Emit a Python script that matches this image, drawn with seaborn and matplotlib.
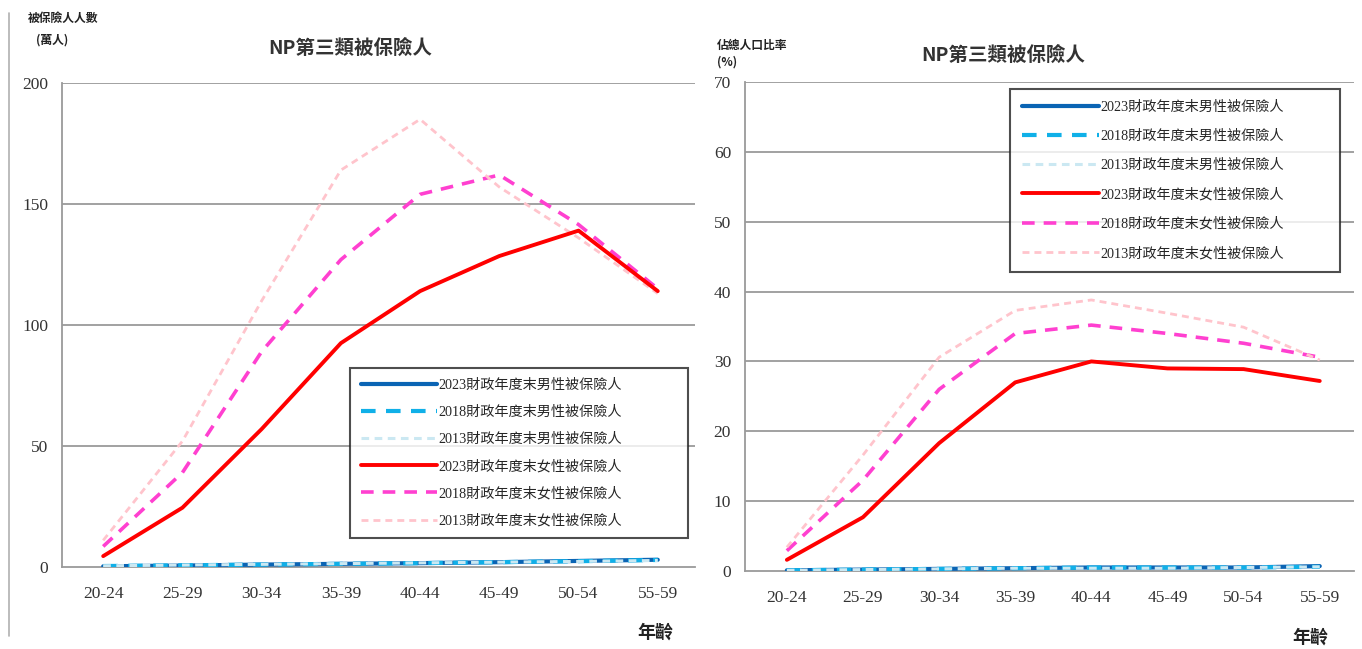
import matplotlib
matplotlib.use("Agg")
import matplotlib.pyplot as plt
import seaborn as sns
import pandas as pd

sns.set_theme(style="white")
plt.rcParams['font.family'] = ['Liberation Serif', 'Noto Sans CJK TC', 'DejaVu Sans']

ages = ["20-24", "25-29", "30-34", "35-39", "40-44", "45-49", "50-54", "55-59"]

series_names = [
    "2023財政年度末男性被保險人",
    "2018財政年度末男性被保險人",
    "2013財政年度末男性被保險人",
    "2023財政年度末女性被保險人",
    "2018財政年度末女性被保險人",
    "2013財政年度末女性被保險人",
]

# Left: number of insured (10k persons)
count_m2023 = [0.3, 0.6, 1.0, 1.3, 1.6, 2.0, 2.5, 3.0]
count_m2018 = [0.4, 0.7, 1.0, 1.3, 1.6, 2.0, 2.4, 2.9]
count_m2013 = [0.5, 0.8, 1.1, 1.4, 1.7, 2.0, 2.3, 2.7]
count_f2023 = [4.5, 24.5, 57, 92.5, 114, 128.5, 139, 114]
count_f2018 = [8.5, 39, 89, 127, 154, 162, 141.5, 115]
count_f2013 = [11, 52, 110, 164, 185, 157, 136, 113]

# Right: ratio to total population (%)
ratio_m2023 = [0.1, 0.2, 0.3, 0.4, 0.5, 0.5, 0.5, 0.7]
ratio_m2018 = [0.1, 0.2, 0.3, 0.4, 0.5, 0.5, 0.5, 0.6]
ratio_m2013 = [0.1, 0.2, 0.3, 0.4, 0.4, 0.4, 0.5, 0.6]
ratio_f2023 = [1.6, 7.7, 18.3, 27.0, 30.0, 29.0, 28.9, 27.2]
ratio_f2018 = [2.9, 13.0, 26.0, 34.0, 35.2, 34.0, 32.6, 30.6]
ratio_f2013 = [3.4, 16.6, 30.6, 37.3, 38.8, 36.9, 34.9, 30.2]

colors = ["#0A64B4", "#10B0E8", "#CBE8F2", "#FF0000", "#FF40D0", "#FFC4CC"]
widths = [3.0, 3.0, 2.2, 2.8, 2.6, 2.0]
dashes = [None, (3.5, 2.5), (2.5, 1.8), None, (3.5, 2.5), (2.5, 1.8)]

W, H = 1362, 649
fig = plt.figure(figsize=(W / 100, H / 100), dpi=100)

def ax_rect(x0, x1, ytop, ybot):
    return [x0 / W, 1 - ybot / H, (x1 - x0) / W, (ybot - ytop) / H]

axL = fig.add_axes(ax_rect(62, 695, 83, 567))
axR = fig.add_axes(ax_rect(745, 1354, 82, 571))

def draw(ax, data, ymax, step, xlim):
    x = list(range(len(ages)))
    handles = []
    for name, vals, c, lw, d in zip(series_names, data, colors, widths, dashes):
        df = pd.DataFrame({"x": x, "y": vals})
        sns.lineplot(data=df, x="x", y="y", ax=ax, color=c, linewidth=lw,
                     label=name, legend=False, zorder=3 if c != "#FF0000" else 4)
        line = ax.get_lines()[-1]
        if d is not None:
            line.set_dashes(d)
        handles.append(line)
    ax.set_xlim(*xlim)
    ax.set_ylim(0, ymax)
    ax.set_yticks(range(0, ymax + 1, step))
    ax.set_xticks(x)
    ax.set_xticklabels(ages)
    ax.set_xlabel("")
    ax.set_ylabel("")
    for yv in range(step, ymax + 1, step):
        ax.axhline(yv, color="#9A9A9A", linewidth=1.3, zorder=1)
    for s in ["top", "right"]:
        ax.spines[s].set_visible(False)
    for s in ["left", "bottom"]:
        ax.spines[s].set_color("#9A9A9A")
        ax.spines[s].set_linewidth(1.3)
    ax.tick_params(axis="both", labelsize=12.5, colors="#333333", length=0, pad=10)
    for lab in ax.get_xticklabels() + ax.get_yticklabels():
        lab.set_family(["Liberation Serif"])
        lab.set_color("#333333")
    ax.tick_params(axis="x", pad=14)
    return handles

hL = draw(axL, [count_m2023, count_m2018, count_m2013, count_f2023, count_f2018, count_f2013],
          200, 50, (-0.52, 7.47))
hR = draw(axR, [ratio_m2023, ratio_m2018, ratio_m2013, ratio_f2023, ratio_f2018, ratio_f2013],
          70, 10, (-0.55, 7.45))

leg_font = {"family": ["Liberation Serif", "Noto Sans CJK TC"], "size": 10.2}

def add_legend(ax, handles, px0, px1, pytop, ax_x0, ax_x1, ax_top, ax_bot, spacing, bpad):
    w = ax_x1 - ax_x0
    h = ax_bot - ax_top
    leg = ax.legend(handles=handles, labels=series_names, loc="upper left",
                    bbox_to_anchor=((px0 - ax_x0) / w, 1 - (pytop - ax_top) / h,
                                    (px1 - px0) / w, 0),
                    mode="expand", frameon=True, fancybox=False, edgecolor="#222222",
                    prop=leg_font, handlelength=5.4, handletextpad=0.1,
                    labelspacing=spacing, borderpad=bpad, borderaxespad=0)
    leg.get_frame().set_linewidth(1.5)
    leg.set_zorder(5)
    return leg

add_legend(axL, hL, 350, 688, 368, 62, 695, 83, 567, 0.98, 0.75)
add_legend(axR, hR, 1010, 1340, 89, 745, 1354, 82, 571, 1.12, 0.85)

cjk = ["Noto Sans CJK TC", "DejaVu Sans"]
fig.text(28 / W, 1 - 18 / H, "被保險人人數", fontsize=8.5, fontweight="bold", family=cjk,
         va="center", ha="left", color="#222222")
fig.text(36 / W, 1 - 40 / H, "(萬人)", fontsize=8.5, fontweight="bold", family=cjk,
         va="center", ha="left", color="#222222")
fig.text(350 / W, 1 - 48 / H, "NP第三類被保險人", fontsize=14, fontweight="bold", family=cjk,
         va="center", ha="center", color="#333333")
fig.text(717 / W, 1 - 45 / H, "佔總人口比率", fontsize=8.5, fontweight="bold", family=cjk,
         va="center", ha="left", color="#222222")
fig.text(717 / W, 1 - 62 / H, "(%)", fontsize=8.5, fontweight="bold", family=cjk,
         va="center", ha="left", color="#222222")
fig.text(1003 / W, 1 - 55 / H, "NP第三類被保險人", fontsize=14, fontweight="bold", family=cjk,
         va="center", ha="center", color="#333333")
fig.text(655 / W, 1 - 632 / H, "年齡", fontsize=13, fontweight="bold", family=cjk,
         va="center", ha="center", color="#222222")
fig.text(1310 / W, 1 - 637 / H, "年齡", fontsize=13, fontweight="bold", family=cjk,
         va="center", ha="center", color="#222222")

# thin frame line at the far left like the reference
fig.add_artist(plt.Line2D([9 / W, 9 / W], [0.02, 0.98], color="#B0B0B0", linewidth=1.2))

fig.savefig("out.png", dpi=100)
